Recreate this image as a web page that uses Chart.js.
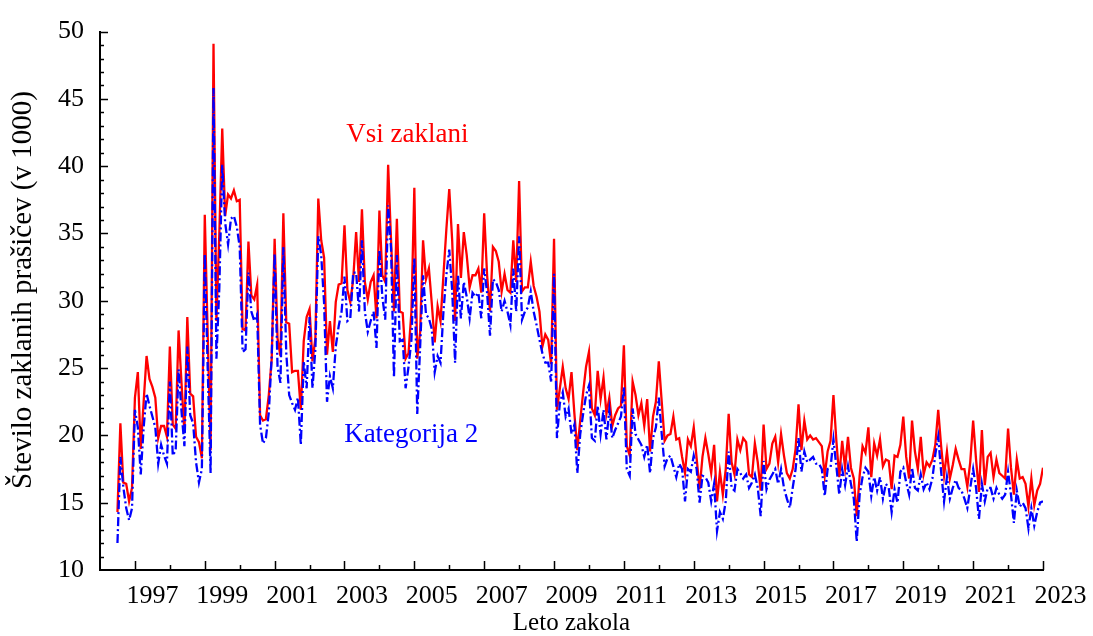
<!DOCTYPE html>
<html>
<head>
<meta charset="utf-8">
<title>Zakol prašičev</title>
<script src="https://cdn.jsdelivr.net/npm/chart.js@4.4.1/dist/chart.umd.min.js"></script>
<style>
  html, body { margin: 0; padding: 0; background: #fff; }
</style>
</head>
<body>
<canvas id="chart-zakol" width="1093" height="636"></canvas>
<script>
// mesečni podatki, od julija 1996 do januarja 2023 (v 1000)
var firstYear = 1996;
var firstMonth = 6; // julij

var vsiZaklani = [
  14.3, 20.9, 16.5, 16.4, 15.1, 16.1,                               // 1996
  22.8, 24.7, 19.0, 22.5, 25.9, 24.2, 23.6, 22.8, 19.8, 20.7, 20.7, 19.9, // 1997
  26.6, 20.8, 20.5, 27.8, 23.9, 20.2, 28.8, 23.1, 22.9, 19.9, 19.5, 18.3, // 1998
  36.4, 27.5, 18.9, 49.1, 28.5, 35.0, 42.8, 36.3, 37.9, 37.6, 38.2, 37.4, // 1999
  37.5, 27.9, 27.8, 34.4, 30.4, 30.1, 31.2, 21.5, 21.1, 21.2, 23.0, 25.7, // 2000
  34.6, 27.2, 25.9, 36.5, 28.4, 28.3, 24.7, 24.8, 24.8, 21.9, 27.0, 28.8, // 2001
  29.4, 25.5, 27.2, 37.6, 34.5, 33.2, 26.0, 28.5, 26.2, 29.9, 31.2, 31.3, // 2002
  35.6, 30.8, 29.9, 31.6, 35.1, 31.4, 36.8, 31.4, 30.1, 31.4, 31.9, 28.7, // 2003
  36.7, 31.9, 31.4, 40.1, 34.5, 29.2, 36.1, 29.2, 29.1, 25.7, 26.1, 29.2, // 2004
  38.4, 25.7, 27.7, 34.5, 31.6, 32.4, 29.8, 26.9, 29.6, 28.5, 31.9, 35.3, // 2005
  38.3, 34.5, 28.5, 35.7, 31.7, 35.1, 33.4, 31.0, 31.9, 31.9, 32.4, 30.6, // 2006
  36.5, 31.9, 29.2, 34.0, 33.7, 32.9, 30.7, 32.0, 30.8, 30.6, 34.5, 31.4, // 2007
  38.9, 30.7, 31.0, 31.0, 32.9, 31.1, 30.3, 29.2, 26.6, 27.5, 27.1, 25.3, // 2008
  34.6, 21.9, 23.5, 25.1, 23.5, 22.7, 24.7, 21.6, 18.9, 21.1, 23.2, 25.1, // 2009
  26.2, 22.0, 21.5, 24.8, 22.7, 24.3, 21.6, 22.8, 20.7, 21.5, 22.0, 22.2, // 2010
  26.7, 19.2, 18.5, 24.0, 23.0, 21.5, 22.4, 20.7, 22.7, 18.8, 21.4, 22.5, // 2011
  25.5, 22.5, 19.6, 20.0, 20.1, 21.4, 19.7, 19.8, 18.4, 17.2, 19.7, 19.2, // 2012
  20.6, 18.3, 16.0, 18.4, 19.8, 18.6, 17.2, 19.3, 15.1, 17.3, 15.6, 17.5, // 2013
  21.6, 18.0, 17.1, 19.7, 18.9, 19.8, 19.5, 17.1, 16.9, 19.4, 18.0, 15.9, // 2014
  20.8, 17.5, 17.9, 19.4, 19.9, 18.0, 20.1, 18.5, 17.2, 16.8, 17.5, 19.0, // 2015
  22.3, 18.9, 21.1, 19.7, 20.0, 19.7, 19.8, 19.5, 19.2, 17.0, 18.8, 19.6, // 2016
  23.0, 19.6, 16.9, 19.6, 17.6, 19.9, 17.6, 16.8, 14.0, 17.0, 19.2, 18.7, // 2017
  20.6, 16.9, 19.4, 18.5, 19.7, 17.7, 18.2, 18.1, 16.0, 18.5, 18.4, 19.3, // 2018
  21.4, 18.4, 16.8, 21.1, 18.8, 17.5, 19.9, 17.1, 18.0, 17.7, 18.2, 19.3, // 2019
  21.9, 19.2, 17.0, 18.8, 16.8, 17.8, 19.0, 18.2, 17.5, 17.5, 16.2, 18.0, // 2020
  21.1, 18.2, 15.8, 20.4, 16.3, 18.4, 18.7, 16.9, 18.2, 17.2, 17.0, 16.8, // 2021
  20.5, 17.6, 15.6, 18.2, 16.8, 16.9, 16.4, 14.7, 16.8, 14.8, 15.9, 16.4, // 2022
  17.6                                                               // 2023
];

var kategorija2 = [
  12.0, 18.4, 16.2, 14.6, 13.7, 14.6,                               // 1996
  21.9, 20.6, 17.1, 20.6, 23.1, 22.2, 21.4, 20.6, 17.9, 19.3, 18.5, 17.9, // 1997
  24.0, 18.5, 18.9, 24.9, 21.8, 19.2, 26.6, 21.5, 20.9, 18.0, 16.5, 17.5, // 1998
  33.5, 25.0, 17.2, 45.8, 25.7, 31.0, 40.1, 35.8, 34.2, 36.1, 36.3, 35.5, // 1999
  34.0, 26.2, 26.4, 32.1, 29.2, 28.5, 29.0, 20.8, 19.4, 19.8, 21.7, 25.9, // 2000
  33.5, 25.1, 23.9, 34.0, 26.1, 23.0, 22.4, 21.9, 22.8, 19.3, 25.5, 23.5, // 2001
  28.8, 23.5, 26.4, 34.8, 33.4, 29.8, 22.5, 24.4, 23.5, 26.6, 28.1, 29.2, // 2002
  31.8, 28.5, 28.7, 32.1, 32.1, 29.2, 34.5, 29.2, 27.7, 28.5, 29.2, 26.5, // 2003
  33.8, 30.3, 28.6, 37.1, 33.9, 24.3, 33.4, 27.0, 27.1, 23.5, 25.1, 27.1, // 2004
  33.2, 21.6, 26.6, 31.9, 29.0, 28.7, 27.9, 24.7, 25.9, 25.4, 29.2, 31.9, // 2005
  33.8, 30.8, 25.4, 31.9, 28.7, 31.4, 30.3, 28.7, 30.6, 30.3, 30.6, 28.7, // 2006
  32.4, 30.6, 27.4, 31.6, 31.4, 30.8, 29.2, 30.0, 29.2, 28.2, 32.4, 29.2, // 2007
  34.8, 28.6, 29.2, 29.5, 30.7, 29.2, 28.2, 27.1, 26.1, 25.4, 25.4, 24.0, // 2008
  32.0, 19.8, 22.4, 23.2, 21.4, 22.0, 20.1, 20.8, 17.2, 20.1, 21.6, 23.0, // 2009
  23.7, 19.8, 19.6, 22.2, 20.1, 21.9, 19.7, 21.9, 19.8, 20.4, 20.9, 21.4, // 2010
  23.6, 17.5, 17.0, 22.0, 20.1, 19.7, 19.3, 18.4, 19.3, 17.2, 19.8, 20.6, // 2011
  22.8, 20.1, 17.7, 18.3, 18.5, 17.7, 16.9, 17.9, 17.5, 15.1, 17.5, 17.3, // 2012
  18.5, 17.5, 15.0, 17.0, 16.9, 16.5, 15.1, 16.4, 12.9, 14.3, 13.8, 15.1, // 2013
  18.8, 16.1, 15.9, 17.5, 17.2, 16.8, 17.1, 16.1, 16.5, 17.1, 16.1, 14.0, // 2014
  18.1, 16.0, 16.7, 17.1, 17.5, 16.4, 17.5, 16.1, 15.3, 14.6, 16.1, 17.5, // 2015
  19.8, 17.3, 18.8, 18.0, 18.2, 18.4, 17.9, 17.9, 17.5, 15.5, 17.5, 17.6, // 2016
  19.7, 17.7, 15.6, 17.5, 16.3, 17.7, 16.4, 15.3, 12.1, 15.6, 16.9, 17.6, // 2017
  17.3, 15.5, 16.9, 15.9, 16.9, 15.3, 16.4, 16.1, 14.3, 16.0, 15.0, 17.3, // 2018
  17.6, 16.5, 15.6, 17.6, 16.1, 15.9, 17.1, 16.0, 16.5, 16.0, 16.8, 18.6, // 2019
  19.9, 17.3, 15.1, 16.9, 15.3, 16.1, 16.7, 16.1, 15.9, 15.3, 14.6, 16.1, // 2020
  17.5, 16.1, 13.8, 16.4, 15.1, 16.1, 16.1, 15.3, 16.1, 15.6, 15.3, 15.6, // 2021
  17.3, 15.6, 13.5, 15.9, 14.7, 15.0, 14.6, 13.1, 14.6, 13.3, 14.3, 15.0, // 2022
  15.1                                                               // 2023
];

var seriesNames = ['Vsi zaklani', 'Kategorija 2'];
var yearRange = [1996, 2023];
var valueRange = [10, 50];
var yTitle = 'Število zaklanih prašičev (v 1000)';

var serif = '"Liberation Serif", "Times New Roman", serif';

// x = leto + mesec/12
function toPoints(values) {
  return values.map(function (v, i) {
    return { x: firstYear + (firstMonth + i) / 12, y: v };
  });
}

// kljukice na oseh so obrnjene navznoter, napisa ob krivuljah, naslov y osi
var axisDecor = {
  id: 'axisDecor',
  afterDraw: function (chart) {
    var ctx = chart.ctx;
    var xs = chart.scales.x;
    var ys = chart.scales.y;
    var area = chart.chartArea;
    ctx.save();
    ctx.strokeStyle = '#000';
    ctx.lineWidth = 1.5;
    ctx.beginPath();
    for (var yr = yearRange[0] + 1; yr <= yearRange[1]; yr++) {
      var px = Math.round(xs.getPixelForValue(yr)) + 0.5;
      var len = (yr % 2 === 1) ? 9 : 5;
      ctx.moveTo(px, area.bottom);
      ctx.lineTo(px, area.bottom - len);
    }
    for (var v = valueRange[0] + 1; v <= valueRange[1]; v++) {
      var py = Math.round(ys.getPixelForValue(v)) + 0.5;
      var l = (v % 5 === 0) ? 8 : 4;
      ctx.moveTo(area.left, py);
      ctx.lineTo(area.left + l, py);
    }
    ctx.stroke();

    ctx.font = '27px ' + serif;
    ctx.textBaseline = 'middle';
    ctx.textAlign = 'left';
    ctx.fillStyle = '#ff0000';
    ctx.fillText(seriesNames[0], xs.getPixelForValue(2003.05), ys.getPixelForValue(42.3));
    ctx.fillStyle = '#0000ff';
    ctx.fillText(seriesNames[1], xs.getPixelForValue(2002.99), ys.getPixelForValue(20.0));

    ctx.translate(23, 290);
    ctx.rotate(-Math.PI / 2);
    ctx.font = '29px ' + serif;
    ctx.textAlign = 'center';
    ctx.fillStyle = '#000';
    ctx.fillText(yTitle, 0, 0);
    ctx.restore();
  }
};

var chartZakol = document.getElementById('chart-zakol');

var myChart = new Chart(chartZakol, {
  type: 'line',
  data: {
    datasets: [{
      label: seriesNames[1],
      data: toPoints(kategorija2),
      borderColor: '#0000ff',
      borderWidth: 2.3,
      borderDash: [9, 3, 2, 3],
      pointRadius: 0,
      tension: 0,
      order: 0
    }, {
      label: seriesNames[0],
      data: toPoints(vsiZaklani),
      borderColor: '#ff0000',
      borderWidth: 2.3,
      pointRadius: 0,
      tension: 0,
      order: 1
    }]
  },
  options: {
    responsive: false,
    animation: false,
    layout: {
      padding: { left: 0, right: 50, top: 23, bottom: 0 }
    },
    plugins: {
      legend: { display: false },
      tooltip: { enabled: false }
    },
    scales: {
      x: {
        type: 'linear',
        min: yearRange[0],
        max: yearRange[1],
        afterFit: function (scale) { scale.height = 66; },
        grid: { display: false, drawTicks: false },
        border: { display: true, color: '#000', width: 2 },
        ticks: {
          stepSize: 1,
          autoSkip: false,
          maxRotation: 0,
          labelOffset: 17.5,
          padding: 11,
          color: '#000',
          font: { family: serif, size: 26 },
          callback: function (value) {
            return value % 2 === 1 ? String(value) : '';
          }
        },
        title: {
          display: true,
          text: 'Leto zakola',
          color: '#000',
          font: { family: serif, size: 25, lineHeight: 1 },
          padding: 0
        }
      },
      y: {
        min: valueRange[0],
        max: valueRange[1],
        afterFit: function (scale) { scale.width = 100; },
        grid: { display: false, drawTicks: false },
        border: { display: true, color: '#000', width: 2 },
        ticks: {
          stepSize: 5,
          padding: 16,
          color: '#000',
          font: { family: serif, size: 26 }
        }
      }
    }
  },
  plugins: [axisDecor]
});
</script>
</body>
</html>
